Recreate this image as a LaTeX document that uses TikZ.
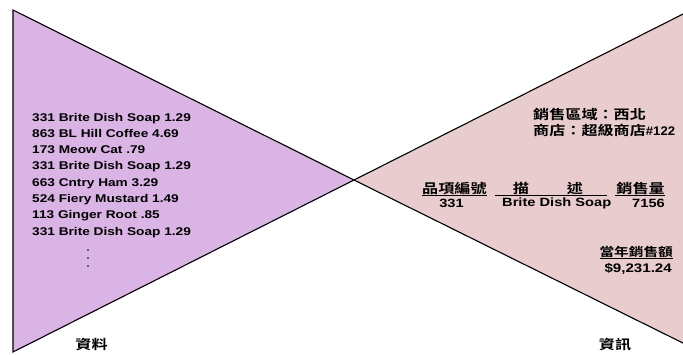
\documentclass[tikz,border=0pt]{standalone}
\usepackage{fontspec}
\newfontfamily\latinb[FakeStretch=1.22]{Liberation Sans Bold}
\newfontfamily\latinn[FakeStretch=1.05]{Liberation Sans Bold}
\newfontfamily\cjkb[FakeStretch=1.22]{Noto Sans CJK TC Bold}
\definecolor{datafill}{HTML}{DAB4E4}
\definecolor{infofill}{HTML}{E9CCCE}
\tikzset{
  tri/.style={draw=black, line width=1.1pt, line join=miter},
  listtxt/.style={inner sep=0pt, anchor=base west, font=\latinb\fontsize{11.2}{13}\selectfont},
  cjktxt/.style={inner sep=0pt, font=\cjkb\fontsize{13.2}{15}\selectfont},
  cjksmall/.style={inner sep=0pt, font=\cjkb\fontsize{12}{14}\selectfont},
  rowtxt/.style={inner sep=0pt, font=\latinb\fontsize{12}{14}\selectfont},
  uline/.style={draw=black, line width=0.8pt},
  dotmark/.style={circle, fill=black, inner sep=0pt, minimum size=1.8pt},
}
\begin{document}
\begin{tikzpicture}[x=1pt,y=-1pt]
\useasboundingbox (0,0) rectangle (683,354);
\begin{scope}
\clip (0,0) rectangle (683,354);
% triangles
\draw[tri, fill=datafill] (13,10) -- (13,352) -- (354,180) -- cycle;
\draw[tri, fill=infofill] (354,180) -- (697,7) -- (697,350) -- cycle;
\end{scope}
% data list
\node[listtxt] (d1) at (32,121.0) {331 Brite Dish Soap 1.29};
\node[listtxt] (d2) at (32,137.3) {863 BL Hill Coffee 4.69};
\node[listtxt] (d3) at (32,153.6) {173 Meow Cat .79};
\node[listtxt] (d4) at (32,169.9) {331 Brite Dish Soap 1.29};
\node[listtxt] (d5) at (32,186.2) {663 Cntry Ham 3.29};
\node[listtxt] (d6) at (32,202.5) {524 Fiery Mustard 1.49};
\node[listtxt] (d7) at (32,218.8) {113 Ginger Root .85};
\node[listtxt] (d8) at (32,235.1) {331 Brite Dish Soap 1.29};
\node[dotmark] (dot1) at (88,250) {};
\node[dotmark] (dot2) at (88,258) {};
\node[dotmark] (dot3) at (88,266) {};
\node[cjktxt] (datalbl) at (91.5,344) {資料};
% information
\node[cjktxt, anchor=west] (region) at (533,114.5) {銷售區域：西北};
\node[cjktxt, anchor=west] (store) at (533,130.5) {商店：超級商店{\latinn\fontsize{12.5}{14}\selectfont\#122}};
\node[cjktxt, anchor=west] (h1) at (422,188) {品項編號};
\node[cjktxt] (h2a) at (521,188) {描};
\node[cjktxt] (h2b) at (575,188) {述};
\node[cjktxt, anchor=east] (h3) at (665,188) {銷售量};
\draw[uline] (422,195.5) -- (487,195.5);
\draw[uline] (495,195.5) -- (607,195.5);
\draw[uline] (615,195.5) -- (665,195.5);
\node[rowtxt] (r1) at (451.5,203.5) {331};
\node[rowtxt, anchor=west] (r2) at (502,203.5) {Brite Dish Soap};
\node[rowtxt, anchor=east] (r3) at (665,203.5) {7156};
\node[cjksmall, anchor=east] (yh) at (673,252) {當年銷售額};
\draw[uline] (600,258) -- (673,258);
\node[rowtxt, anchor=east, font=\latinb\fontsize{12.4}{14}\selectfont] (yv) at (672,269) {\$9,231.24};
\node[cjktxt] (infolbl) at (615,345) {資訊};
\end{tikzpicture}
\end{document}
